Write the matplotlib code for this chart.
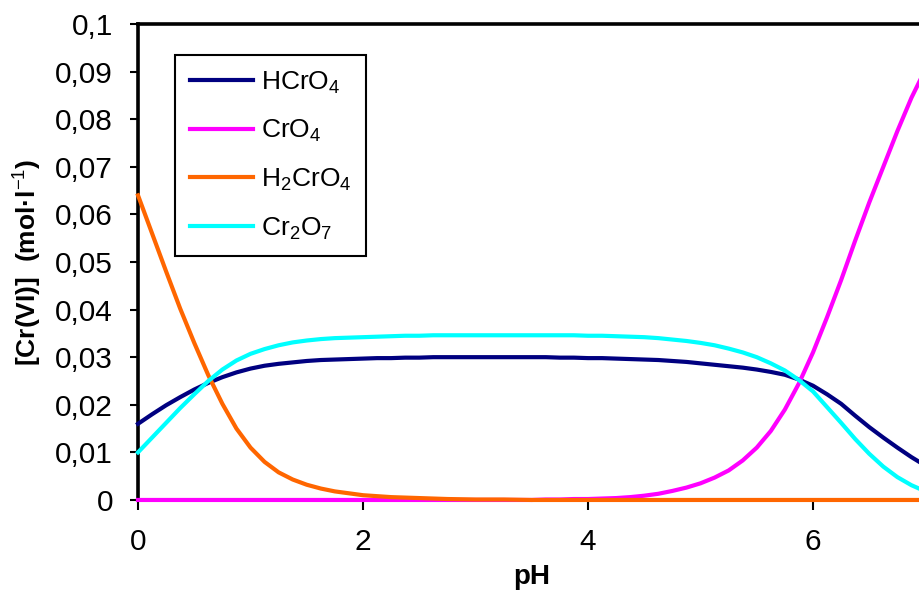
import matplotlib
matplotlib.use("Agg")
from matplotlib import pyplot as plt
from matplotlib.ticker import FixedLocator, FuncFormatter

plt.rcParams['font.family'] = ['Liberation Sans', 'DejaVu Sans']
plt.rcParams['mathtext.fontset'] = 'custom'
plt.rcParams['mathtext.rm'] = 'Liberation Sans'
plt.rcParams['mathtext.it'] = 'Liberation Sans'
plt.rcParams['mathtext.bf'] = 'Liberation Sans:bold'

# valeurs (pas de 0,125)
pH = [0, 0.125, 0.25, 0.375, 0.5, 0.625, 0.75, 0.875, 1, 1.125, 1.25, 1.375, 1.5,
      1.625, 1.75, 1.875, 2, 2.125, 2.25, 2.375, 2.5, 2.625, 2.75, 2.875, 3,
      3.125, 3.25, 3.375, 3.5, 3.625, 3.75, 3.875, 4, 4.125, 4.25, 4.375, 4.5,
      4.625, 4.75, 4.875, 5, 5.125, 5.25, 5.375, 5.5, 5.625, 5.75, 5.875, 6,
      6.125, 6.25, 6.375, 6.5, 6.625, 6.75, 6.875, 7]

hcro4 = [0.0160, 0.0180, 0.0199, 0.0216, 0.0232, 0.0246, 0.0258, 0.0268, 0.0276,
         0.0282, 0.0286, 0.0289, 0.0292, 0.0294, 0.0295, 0.0296, 0.0297, 0.0298,
         0.0298, 0.0299, 0.0299, 0.0300, 0.0300, 0.0300, 0.0300, 0.0300, 0.0300,
         0.0300, 0.0300, 0.0300, 0.0299, 0.0299, 0.0298, 0.0298, 0.0297, 0.0296,
         0.0295, 0.0294, 0.0292, 0.0290, 0.0287, 0.0284, 0.0281, 0.0278, 0.0274,
         0.0269, 0.0263, 0.0253, 0.0240, 0.0222, 0.0202, 0.0177, 0.0153, 0.0131,
         0.0110, 0.0090, 0.0072]

cro4 = [0.0, 0.0, 0.0, 0.0, 0.0, 0.0, 0.0, 0.0, 0.0, 0.0, 0.0, 0.0, 0.0, 0.0,
        0.0, 0.0, 0.0, 0.0, 0.0, 0.0, 0.0, 0.0, 0.0, 0.0, 0.0, 0.0, 0.0, 0.0,
        0.0, 0.0001, 0.0001, 0.0002, 0.0002, 0.0003, 0.0004, 0.0006, 0.0009,
        0.0013, 0.0019, 0.0026, 0.0035, 0.0047, 0.0062, 0.0083, 0.0110, 0.0145,
        0.0190, 0.0245, 0.0310, 0.0384, 0.0462, 0.0545, 0.0625, 0.0700, 0.0775,
        0.0845, 0.0905]

h2cro4 = [0.0640, 0.0560, 0.0480, 0.0402, 0.0330, 0.0262, 0.0202, 0.0150, 0.0110,
          0.0080, 0.0058, 0.0043, 0.0032, 0.0024, 0.0018, 0.0014, 0.0010, 0.0008,
          0.0006, 0.0005, 0.0004, 0.0003, 0.0002, 0.00015, 0.0001, 0.0001, 0.0001,
          0.00005, 0.0, 0.0, 0.0, 0.0, 0.0, 0.0, 0.0, 0.0, 0.0, 0.0, 0.0, 0.0,
          0.0, 0.0, 0.0, 0.0, 0.0, 0.0, 0.0, 0.0, 0.0, 0.0, 0.0, 0.0, 0.0, 0.0,
          0.0, 0.0, 0.0]

cr2o7 = [0.0100, 0.0131, 0.0162, 0.0193, 0.0222, 0.0250, 0.0274, 0.0293, 0.0307,
         0.0317, 0.0325, 0.0331, 0.0335, 0.0338, 0.0340, 0.0341, 0.0342, 0.0343,
         0.0344, 0.0345, 0.0345, 0.0346, 0.0346, 0.0346, 0.0346, 0.0346, 0.0346,
         0.0346, 0.0346, 0.0346, 0.0346, 0.0346, 0.0345, 0.0345, 0.0344, 0.0343,
         0.0342, 0.0340, 0.0337, 0.0334, 0.0330, 0.0325, 0.0318, 0.0310, 0.0300,
         0.0287, 0.0272, 0.0252, 0.0228, 0.0195, 0.0162, 0.0128, 0.0097, 0.0070,
         0.0048, 0.0031, 0.0018]

yticks = [0, 0.01, 0.02, 0.03, 0.04, 0.05, 0.06, 0.07, 0.08, 0.09, 0.1]
xticks = [0, 2, 4, 6]

fig = plt.figure(figsize=(9.2, 6.05), dpi=100)
ax = fig.add_axes([0.15, 0.1736, 0.856, 0.7868])

lw = 3
ax.plot(pH, hcro4, color='#000080', lw=lw, label='HCrO$_4$', zorder=3, clip_on=False)
ax.plot(pH, cro4, color='#FF00FF', lw=lw, label='CrO$_4$', zorder=3, clip_on=False)
ax.plot(pH, h2cro4, color='#FF6600', lw=lw, label='H$_2$CrO$_4$', zorder=3, clip_on=False)
ax.plot(pH, cr2o7, color='#00FFFF', lw=lw, label='Cr$_2$O$_7$', zorder=3, clip_on=False)

ax.set_xlim(0, 7)
ax.set_ylim(0, 0.1)
ax.yaxis.set_major_locator(FixedLocator(yticks))
ax.xaxis.set_major_locator(FixedLocator(xticks))
ax.yaxis.set_major_formatter(FuncFormatter(lambda v, p: ('%g' % round(v, 2)).replace('.', ',')))
ax.xaxis.set_major_formatter(FuncFormatter(lambda v, p: '%d' % v))

for s in ax.spines.values():
    s.set_linewidth(2.6)
    s.set_color('black')
ax.tick_params(axis='both', direction='out', length=6, width=1.5, labelsize=21.5, pad=12)
ax.tick_params(axis='x', length=7, pad=13)

ax.set_xlabel('pH', fontsize=20, fontweight='bold', labelpad=6)
ax.set_ylabel('[Cr(VI)]  (mol·l$^{-1}$)', fontsize=19, fontweight='bold', labelpad=8)

leg = ax.legend(loc='upper left', bbox_to_anchor=(0.047, 0.935), borderaxespad=0,
                fontsize=19, handlelength=2.4, handletextpad=0.3, labelspacing=0.85,
                fancybox=False, framealpha=1, edgecolor='black', borderpad=0.55)
leg.get_frame().set_linewidth(1.5)

fig.savefig('out.png', dpi=100)
